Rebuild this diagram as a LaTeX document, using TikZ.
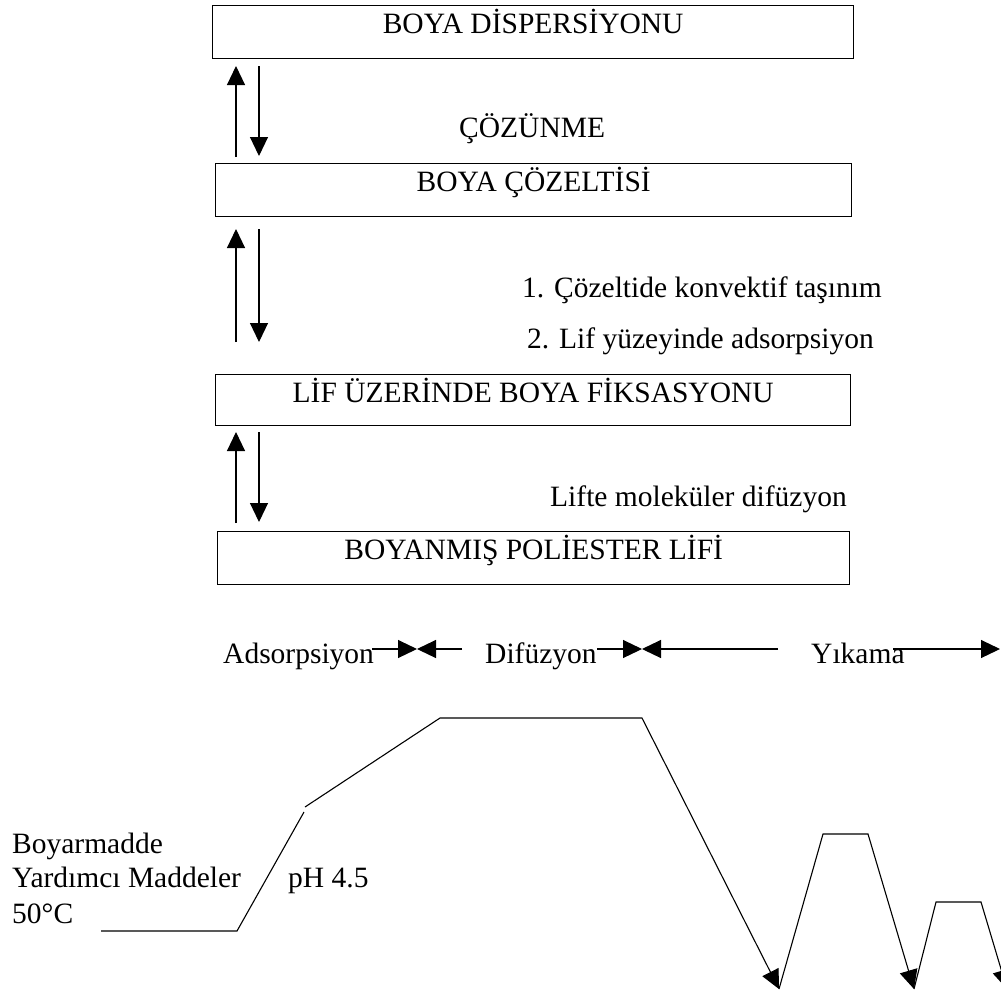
\documentclass[tikz,border=0pt]{standalone}
\usepackage{fontspec}
\setmainfont{Liberation Serif}
\usetikzlibrary{arrows.meta}
\begin{document}
\begin{tikzpicture}[x=1pt,y=-1pt,
  every node/.style={font=\fontsize{29.5}{35}\selectfont, inner sep=0pt},
  box/.style={draw, line width=1.4pt, anchor=north west, text height=28pt, text depth=#1},
  lbl/.style={anchor=base west},
  ln/.style={line width=1.1pt},
  arr/.style={line width=1.1pt, -{Triangle[length=19pt,width=18pt]}}]
\useasboundingbox (0,0) rectangle (1001,997);
\fill[white] (0,0) rectangle (1001,997);
% boxes
\node[box=25pt, minimum width=641pt] (b1) at (212,5) {BOYA DİSPERSİYONU};
\node[box=25pt, minimum width=636pt] (b2) at (215,163) {BOYA ÇÖZELTİSİ};
\node[box=23pt, minimum width=635pt] (b3) at (215,374) {LİF ÜZERİNDE BOYA FİKSASYONU};
\node[box=25pt, minimum width=632pt] (b4) at (217,531) {BOYANMIŞ POLİESTER LİFİ};
% equilibrium arrows
\coordinate (u1a) at (236,157); \coordinate (u1b) at (236,66);
\coordinate (d1a) at (259,66);  \coordinate (d1b) at (259,156);
\coordinate (u2a) at (236,342); \coordinate (u2b) at (236,229);
\coordinate (d2a) at (259,229); \coordinate (d2b) at (259,342);
\coordinate (u3a) at (236,523); \coordinate (u3b) at (236,432);
\coordinate (d3a) at (259,432); \coordinate (d3b) at (259,522);
\draw[arr] (u1a) -- (u1b);
\draw[arr] (d1a) -- (d1b);
\draw[arr] (u2a) -- (u2b);
\draw[arr] (d2a) -- (d2b);
\draw[arr] (u3a) -- (u3b);
\draw[arr] (d3a) -- (d3b);
% labels
\node[lbl] (cozunme) at (459,137) {ÇÖZÜNME};
\node[lbl] (t1) at (522,297) {1. Çözeltide konvektif taşınım};
\node[lbl] (t2) at (527,348) {2. Lif yüzeyinde adsorpsiyon};
\node[lbl] (t3) at (550,506) {Lifte moleküler difüzyon};
% timeline
\node[lbl] (adsorp) at (223,663) {Adsorpsiyon};
\node[lbl] (difuz) at (485,663) {Difüzyon};
\node[lbl] (yikama) at (811,663) {Yıkama};
\coordinate (s1) at (372,649); \coordinate (m1) at (417,649); \coordinate (s2) at (462,649);
\coordinate (s3) at (597,649); \coordinate (m2) at (642,649); \coordinate (s4) at (778,649);
\coordinate (s5) at (893,649); \coordinate (m3) at (1000,649);
\draw[arr] (s1) -- (m1);
\draw[arr] (s2) -- (m1);
\draw[arr] (s3) -- (m2);
\draw[arr] (s4) -- (m2);
\draw[arr] (s5) -- (m3);
% temperature profile
\node[lbl] (boyar) at (12,853) {Boyarmadde};
\node[lbl] (yard) at (12,887) {Yardımcı Maddeler};
\node[lbl] (sic) at (12,923) {50°C};
\node[lbl] (ph) at (288,887) {pH 4.5};
\coordinate (g0) at (101,931); \coordinate (g1) at (237,931); \coordinate (g2) at (304,812);
\coordinate (g3) at (305,807); \coordinate (g4) at (440,718); \coordinate (g5) at (642,718);
\coordinate (g6) at (779,989); \coordinate (g7) at (823,834); \coordinate (g8) at (868,834);
\coordinate (g9) at (914,989); \coordinate (g10) at (936,902); \coordinate (g11) at (981,902);
\coordinate (g12) at (1007,989);
\draw[ln] (g0) -- (g1) -- (g2);
\draw[arr] (g3) -- (g4) -- (g5) -- (g6);
\draw[arr] (g6) -- (g7) -- (g8) -- (g9);
\draw[arr] (g9) -- (g10) -- (g11) -- (g12);
\end{tikzpicture}
\end{document}
